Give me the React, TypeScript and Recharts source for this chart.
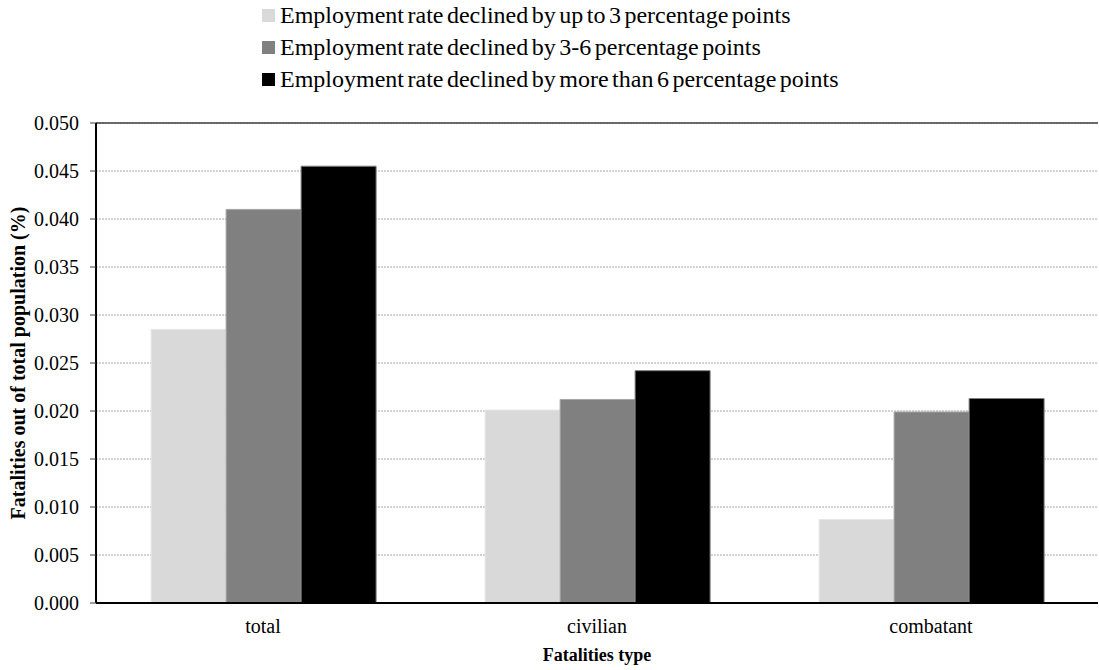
import {
  BarChart,
  Bar,
  XAxis,
  YAxis,
  CartesianGrid,
  Legend,
  ReferenceLine,
} from "recharts";

const categories = ["total", "civilian", "combatant"];
const upTo3 = [0.0285, 0.0201, 0.0087];
const from3to6 = [0.041, 0.0212, 0.0199];
const moreThan6 = [0.0455, 0.0242, 0.0213];
const yTicks = [0, 0.005, 0.01, 0.015, 0.02, 0.025, 0.03, 0.035, 0.04, 0.045, 0.05];

const seriesNames = [
  "Employment rate declined by up to 3 percentage points",
  "Employment rate declined by 3-6 percentage points",
  "Employment rate declined by more than 6 percentage points",
];

const data = categories.map((name, i) => ({
  name,
  a: upTo3[i],
  b: from3to6[i],
  c: moreThan6[i],
}));

const FONT = "Liberation Serif";
const COLORS = ["#d9d9d9", "#808080", "#000000"];
const EDGES = ["#e6e6e6", "#a6a6a6", "#7f7f7f"];

function LegendBox() {
  return (
    <div style={{ fontFamily: FONT, fontSize: 24, color: "#000" }}>
      {seriesNames.map((s, i) => (
        <div key={s} style={{ display: "flex", alignItems: "center", height: 32, whiteSpace: "nowrap" }}>
          <span style={{ width: 13, height: 13, background: COLORS[i], marginRight: 5, flexShrink: 0 }} />
          <span style={{ wordSpacing: -2.5 }}>{s}</span>
        </div>
      ))}
    </div>
  );
}

export default function App() {
  return (
    <div style={{ position: "absolute", left: 0, top: 0, width: 1099, height: 670, background: "#fff", fontFamily: FONT }}>
      <BarChart
        width={1099}
        height={670}
        data={data}
        margin={{ top: 123, right: 1, bottom: 0, left: 0 }}
        barCategoryGap="16.5%"
        barGap={0}
        style={{ fontFamily: FONT }}
      >
        <CartesianGrid vertical={false} stroke="#a6a6a6" strokeDasharray="2 1" />
        <XAxis
          dataKey="name"
          height={67}
          tickLine={false}
          tickSize={0}
          tickMargin={16}
          axisLine={{ stroke: "#000", strokeWidth: 2 }}
          tick={{ fontFamily: FONT, fontSize: 20, fill: "#000" }}
          label={{
            content: ({ viewBox }: any) => (
              <text
                x={viewBox.x + viewBox.width / 2}
                y={viewBox.y + 58}
                textAnchor="middle"
                style={{ fontFamily: FONT }}
                fontSize={18}
                fontWeight="bold"
                fill="#000"
              >
                Fatalities type
              </text>
            ),
          }}
        />
        <YAxis
          width={96}
          domain={[0, 0.05]}
          ticks={yTicks}
          interval={0}
          tickFormatter={(v: number) => v.toFixed(3)}
          tickSize={6}
          tickMargin={11}
          tickLine={{ stroke: "#404040" }}
          axisLine={{ stroke: "#000", strokeWidth: 2 }}
          tick={{ fontFamily: FONT, fontSize: 20, fill: "#000" }}
          label={{
            content: ({ viewBox }: any) => (
              <text
                x={viewBox.x + 18}
                y={viewBox.y + viewBox.height / 2}
                transform={`rotate(-90, ${viewBox.x + 18}, ${viewBox.y + viewBox.height / 2})`}
                textAnchor="middle"
                dominantBaseline="central"
                style={{ fontFamily: FONT }}
                fontSize={20}
                fontWeight="bold"
                fill="#000"
              >
                Fatalities out of total population (%)
              </text>
            ),
          }}
        />
        <ReferenceLine y={0.05} stroke="#404040" strokeWidth={1.5} />
        <Legend
          layout="vertical"
          align="center"
          verticalAlign="middle"
          wrapperStyle={{ top: -1, left: 262, width: "auto" }}
          content={() => <LegendBox />}
        />
        <Bar dataKey="a" name={seriesNames[0]} fill={COLORS[0]} stroke={EDGES[0]} isAnimationActive={false} />
        <Bar dataKey="b" name={seriesNames[1]} fill={COLORS[1]} stroke={EDGES[1]} isAnimationActive={false} />
        <Bar dataKey="c" name={seriesNames[2]} fill={COLORS[2]} stroke={EDGES[2]} isAnimationActive={false} />
      </BarChart>
    </div>
  );
}
